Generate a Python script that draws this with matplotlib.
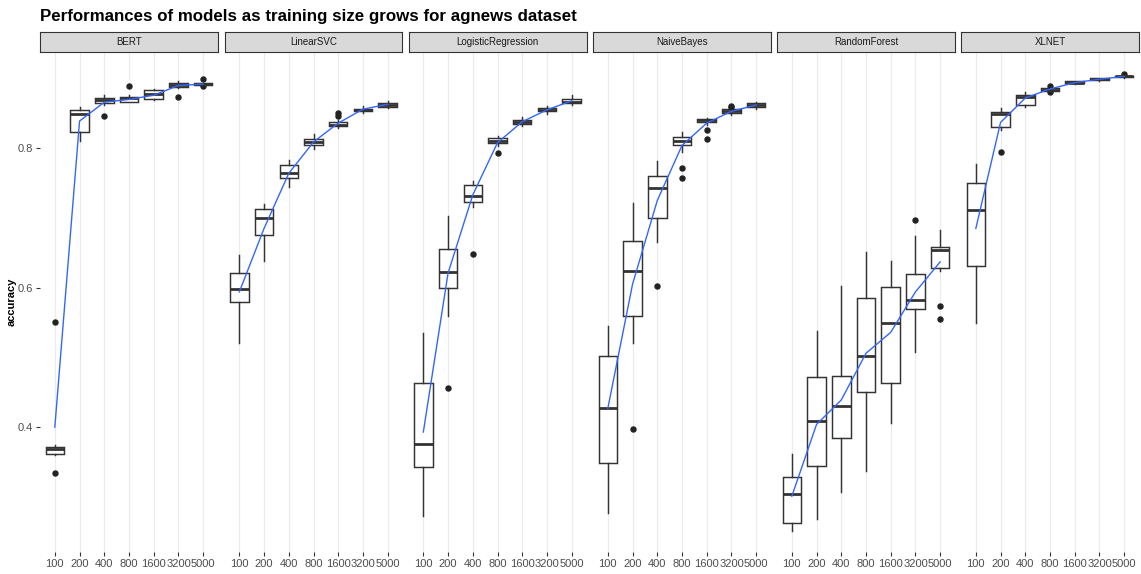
import matplotlib
matplotlib.use("Agg")
import matplotlib.pyplot as plt

plt.rcParams["font.family"] = ["Liberation Sans", "DejaVu Sans"]

# Training sizes on the x axis and the models shown as facets
sizes = ["100", "200", "400", "800", "1600", "3200", "5000"]
models = ["BERT", "LinearSVC", "LogisticRegression", "NaiveBayes", "RandomForest", "XLNET"]

# Box statistics of accuracy per model (rows) and training size (columns)
q1 = [
    [0.362, 0.823, 0.865, 0.866, 0.871, 0.888, 0.890],
    [0.579, 0.675, 0.757, 0.804, 0.832, 0.853, 0.859],
    [0.343, 0.599, 0.723, 0.807, 0.835, 0.853, 0.865],
    [0.348, 0.559, 0.700, 0.804, 0.837, 0.850, 0.859],
    [0.262, 0.345, 0.384, 0.450, 0.463, 0.569, 0.628],
    [0.631, 0.831, 0.862, 0.882, 0.893, 0.898, 0.902],
]
median = [
    [0.368, 0.849, 0.869, 0.872, 0.878, 0.891, 0.892],
    [0.598, 0.700, 0.764, 0.809, 0.834, 0.855, 0.862],
    [0.376, 0.622, 0.731, 0.811, 0.838, 0.855, 0.867],
    [0.427, 0.624, 0.743, 0.810, 0.840, 0.853, 0.862],
    [0.304, 0.409, 0.430, 0.502, 0.549, 0.583, 0.654],
    [0.712, 0.849, 0.873, 0.884, 0.894, 0.899, 0.903],
]
q3 = [
    [0.372, 0.855, 0.872, 0.874, 0.883, 0.894, 0.893],
    [0.621, 0.713, 0.776, 0.813, 0.837, 0.856, 0.865],
    [0.463, 0.655, 0.747, 0.814, 0.840, 0.858, 0.870],
    [0.502, 0.667, 0.760, 0.816, 0.842, 0.856, 0.865],
    [0.328, 0.472, 0.474, 0.585, 0.601, 0.619, 0.659],
    [0.750, 0.852, 0.877, 0.886, 0.896, 0.900, 0.904],
]
whisker_low = [
    [0.360, 0.811, 0.862, 0.866, 0.869, 0.886, 0.890],
    [0.520, 0.639, 0.744, 0.799, 0.829, 0.851, 0.857],
    [0.272, 0.559, 0.716, 0.803, 0.832, 0.849, 0.862],
    [0.277, 0.520, 0.665, 0.795, 0.833, 0.847, 0.856],
    [0.251, 0.268, 0.307, 0.337, 0.406, 0.508, 0.624],
    [0.549, 0.826, 0.859, 0.881, 0.892, 0.897, 0.901],
]
whisker_high = [
    [0.374, 0.859, 0.877, 0.876, 0.885, 0.897, 0.894],
    [0.647, 0.720, 0.783, 0.820, 0.840, 0.860, 0.868],
    [0.535, 0.703, 0.753, 0.817, 0.845, 0.860, 0.877],
    [0.545, 0.722, 0.782, 0.823, 0.844, 0.858, 0.867],
    [0.361, 0.538, 0.602, 0.651, 0.639, 0.674, 0.683],
    [0.778, 0.857, 0.880, 0.887, 0.897, 0.901, 0.905],
]
outliers = [
    [[0.334, 0.551], [], [0.846], [0.889], [], [0.873], [0.899, 0.889]],
    [[], [], [], [], [0.846, 0.850], [], []],
    [[], [0.456], [0.649], [0.793], [], [], []],
    [[], [0.397], [0.602], [0.771, 0.757], [0.826, 0.813], [0.861, 0.859], []],
    [[], [], [], [], [], [0.697], [0.574, 0.555]],
    [[], [0.795], [], [0.889, 0.880], [], [], [0.907]],
]
# Mean accuracy per training size (blue trend line)
means = [
    [0.400, 0.839, 0.866, 0.870, 0.876, 0.890, 0.892],
    [0.594, 0.685, 0.764, 0.809, 0.836, 0.856, 0.863],
    [0.393, 0.621, 0.733, 0.808, 0.838, 0.855, 0.868],
    [0.427, 0.605, 0.725, 0.804, 0.836, 0.853, 0.862],
    [0.301, 0.404, 0.439, 0.506, 0.536, 0.594, 0.637],
    [0.685, 0.837, 0.872, 0.885, 0.894, 0.899, 0.903],
]

W, H = 1141, 574
fig = plt.figure(figsize=(W / 100, H / 100), dpi=100)
fig.patch.set_facecolor("white")

panel_left = [40, 224.5, 408.5, 593, 777, 961]
panel_w = 178
panel_top, panel_bottom = 52, 552
strip_top = 32

dark = "#333333"
text_grey = "#4D4D4D"
positions = list(range(1, len(sizes) + 1))

for i, model in enumerate(models):
    x0 = panel_left[i] / W
    ax = fig.add_axes([x0, (H - panel_bottom) / H, panel_w / W,
                       (panel_bottom - panel_top) / H])
    ax.set_facecolor("white")
    for s in ax.spines.values():
        s.set_visible(False)

    for p in positions:
        ax.axvline(p, color="#EBEBEB", lw=0.8, zorder=0)

    stats = []
    for j in range(len(sizes)):
        stats.append(dict(med=median[i][j], q1=q1[i][j], q3=q3[i][j],
                          whislo=whisker_low[i][j], whishi=whisker_high[i][j],
                          fliers=outliers[i][j]))
    ax.bxp(stats, positions=positions, widths=0.75, patch_artist=True,
           showcaps=False,
           boxprops=dict(facecolor="white", edgecolor=dark, linewidth=1.05),
           whiskerprops=dict(color=dark, linewidth=1.05),
           medianprops=dict(color=dark, linewidth=2.0),
           flierprops=dict(marker="o", markerfacecolor="#222222",
                           markeredgecolor="#222222", markersize=3.6),
           zorder=2)

    ax.plot(positions, means[i], color="#3366FF", lw=1.0, zorder=4)

    ax.set_xlim(0.4, 7.6)
    ax.set_ylim(0.221, 0.938)
    ax.set_xticks(positions)
    ax.set_xticklabels(sizes)
    ax.set_yticks([0.4, 0.6, 0.8])
    ax.set_yticklabels(["0.4", "0.6", "0.8"])
    ax.tick_params(axis="x", length=2.8, width=0.8, color=dark, pad=2,
                   labelsize=8, labelcolor=text_grey)
    if i == 0:
        ax.tick_params(axis="y", length=2.8, width=0.8, color=dark, pad=2,
                       labelsize=8, labelcolor=text_grey)
    else:
        ax.tick_params(axis="y", left=False, labelleft=False)
    ax.grid(False)

    # facet strip
    sax = fig.add_axes([x0, (H - panel_top) / H, panel_w / W,
                        (panel_top - strip_top) / H])
    sax.set_xticks([])
    sax.set_yticks([])
    sax.set_facecolor("#D9D9D9")
    for s in sax.spines.values():
        s.set_color(dark)
        s.set_linewidth(0.8)
    sax.text(0.5, 0.5, model, ha="center", va="center", fontsize=7,
             color="#1A1A1A", transform=sax.transAxes)

fig.text(40 / W, 1 - 17 / H,
         "Performances of models as training size grows for agnews dataset",
         fontsize=12.2, fontweight="bold", ha="left", va="center", color="black")
fig.text(12 / W, 1 - 302 / H, "accuracy", rotation=90, fontsize=8,
         fontweight="bold", ha="center", va="center", color="black")

fig.savefig("out.png", dpi=100, facecolor="white")
